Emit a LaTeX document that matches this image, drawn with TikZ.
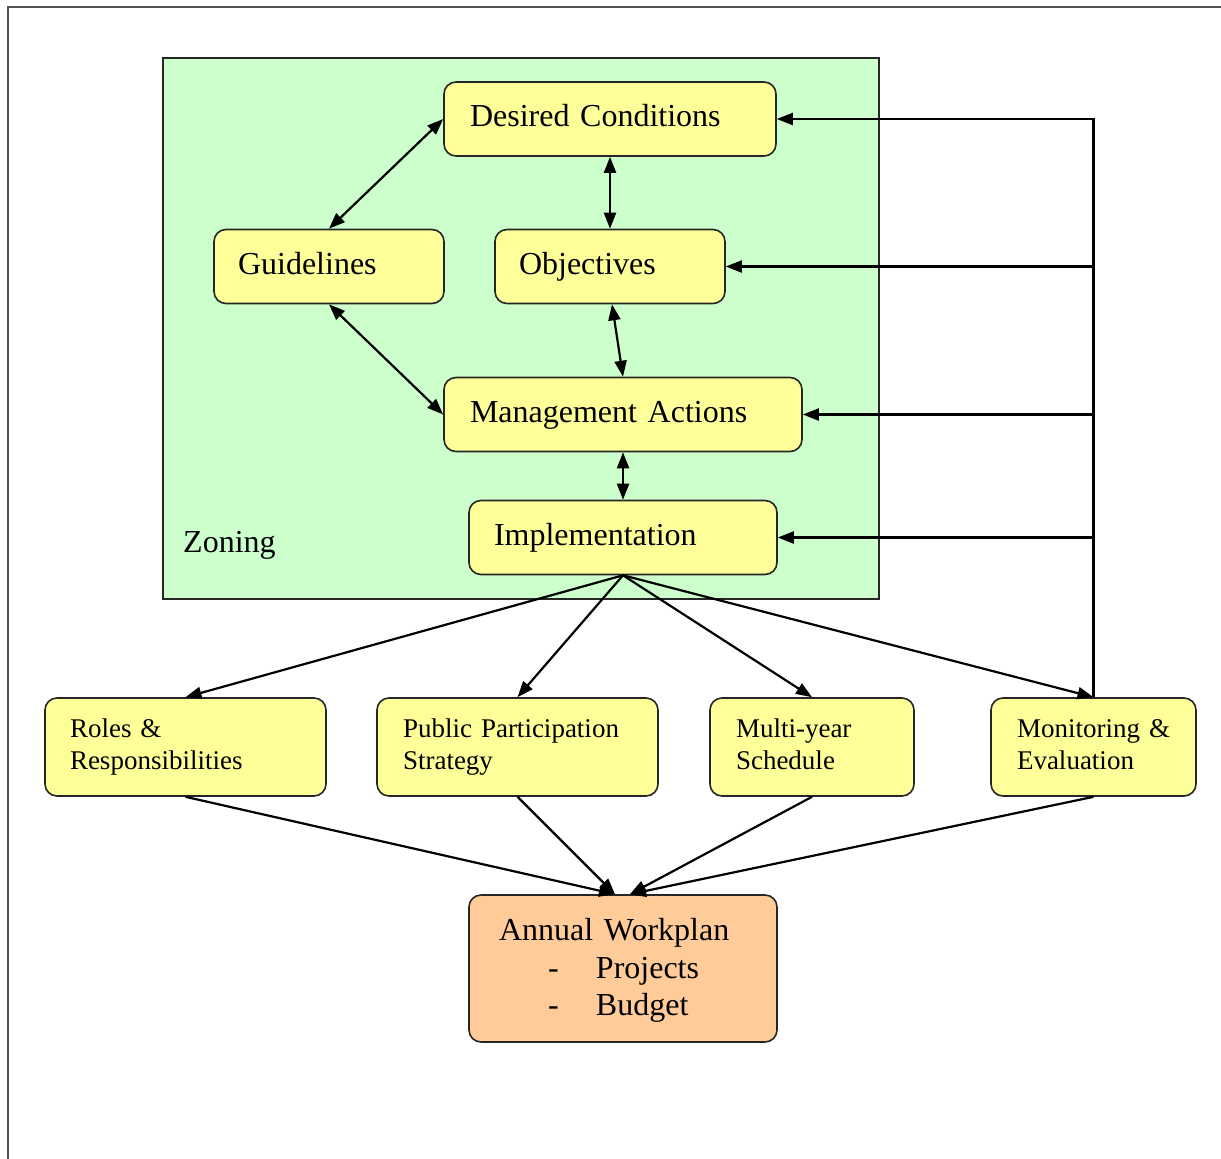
\documentclass[tikz,border=0pt]{standalone}
\usepackage{fontspec}
\setmainfont{Liberation Serif}
\usetikzlibrary{arrows.meta,calc}
\definecolor{boxyellow}{HTML}{FFFF99}
\definecolor{zonegreen}{HTML}{CCFFCC}
\definecolor{planorange}{HTML}{FFCC99}
\definecolor{framegray}{HTML}{505050}
\begin{document}
\begin{tikzpicture}[x=1pt,y=-1pt,
  basebox/.style={draw=black!85, line width=1.6pt, rounded corners=12pt, inner ysep=0pt, align=left},
  bigbox/.style={basebox, fill=boxyellow, minimum height=74pt, font=\fontsize{32}{38}\selectfont},
  smallbox/.style={basebox, fill=boxyellow, minimum height=98pt, font=\fontsize{27}{32}\selectfont},
  planbox/.style={basebox, fill=planorange, minimum height=147pt, font=\fontsize{32}{37.5}\selectfont},
  zonebox/.style={draw=black!85, line width=1.6pt, fill=zonegreen, inner sep=0pt},
  arr/.style={line width=2.2pt, -{Triangle[length=16pt,width=12pt]}},
  biarr/.style={line width=2.2pt, {Triangle[length=16pt,width=12pt]}-{Triangle[length=16pt,width=12pt]}}
]
\useasboundingbox (0,0) rectangle (1221,1159);
\draw[framegray, line width=2.2pt] (8,1159) -- (8,7) -- (1221,7);

\node[zonebox, minimum width=716pt, minimum height=541pt] (zone) at (521,328.5) {};
\node[anchor=base west, inner sep=0pt, font=\fontsize{32}{38}\selectfont] (zoning) at (183,552) {Zoning};

\node[bigbox, inner xsep=26pt, text width=280pt] (desired) at (610,119) {\strut\mbox{Desired Conditions}};
\node[bigbox, inner xsep=24pt, text width=182pt] (guide) at (329,266.5) {\strut Guidelines};
\node[bigbox, inner xsep=24pt, text width=182pt] (obj) at (610,266.5) {\strut Objectives};
\node[bigbox, inner xsep=26pt, text width=306pt] (mgmt) at (623,414.5) {\strut\mbox{Management Actions}};
\node[bigbox, inner xsep=25pt, text width=258pt] (impl) at (623,537.5) {\strut Implementation};

\node[smallbox, inner xsep=25pt, text width=231pt] (roles) at (185.5,747) {\strut\mbox{Roles \&}\\\strut\mbox{Responsibilities}};
\node[smallbox, inner xsep=26pt, text width=229pt] (public) at (517.5,747) {\strut\mbox{Public Participation}\\\strut\mbox{Strategy}};
\node[smallbox, inner xsep=26pt, text width=152pt] (multi) at (812,747) {\strut\mbox{Multi-year}\\\strut\mbox{Schedule}};
\node[smallbox, inner xsep=26pt, text width=153pt] (monit) at (1093.5,747) {\strut\mbox{Monitoring \&}\\\strut\mbox{Evaluation}};

\node[planbox, inner xsep=30pt, text width=248pt] (plan) at (623,968.5) {\raisebox{0pt}[26pt][0pt]{}\mbox{Annual Workplan}\\\hspace*{49pt}\makebox[48pt][l]{-}Projects\\\hspace*{49pt}\makebox[48pt][l]{-}Budget\raisebox{0pt}[0pt][5pt]{}};

% links inside zoning
\draw[biarr] (desired.west) -- (guide.north);
\draw[biarr] (desired.south) -- (obj.north);
\draw[biarr] (guide.south) -- (mgmt.west);
\draw[biarr] ($(obj.south)+(2,0)$) -- (mgmt.north);
\draw[biarr] (mgmt.south) -- (impl.north);

% implementation to outputs
\draw[arr] (impl.south) -- (roles.north);
\draw[arr] (impl.south) -- (public.north);
\draw[arr] (impl.south) -- (multi.north);
\draw[arr] (impl.south) -- (monit.north);

% feedback
\draw[arr] (monit.north) -- (monit.north |- desired.east) -- (desired.east);
\draw[arr] (monit.north |- obj.east) -- (obj.east);
\draw[arr] (monit.north |- mgmt.east) -- (mgmt.east);
\draw[arr] (monit.north |- impl.east) -- (impl.east);

% to workplan
\draw[arr] (roles.south) -- ($(plan.north)+(-8,0)$);
\draw[arr] (public.south) -- ($(plan.north)+(-8,0)$);
\draw[arr] (multi.south) -- ($(plan.north)+(7,0)$);
\draw[arr] (monit.south) -- ($(plan.north)+(7,0)$);
\end{tikzpicture}
\end{document}
